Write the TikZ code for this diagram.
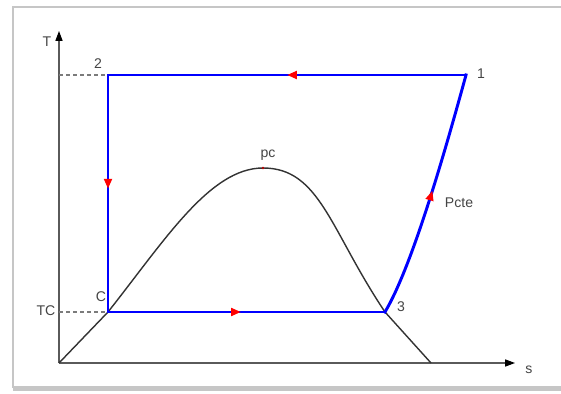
\documentclass[tikz,border=0pt]{standalone}
\usepackage{fontspec}
\setmainfont{Liberation Sans}
\usepackage{xcolor}
\usetikzlibrary{arrows.meta,decorations.markings,shadows}

\definecolor{txtgray}{HTML}{454545}
\definecolor{axisgray}{HTML}{5A5A5A}

\begin{document}
\begin{tikzpicture}[x=0.025cm, y=-0.025cm,
                    font=\fontsize{10}{12}\selectfont,
                    lab/.style={text=txtgray, inner sep=0pt},
                    axis/.style={axisgray, line width=0.8pt, -{Triangle[length=7pt,width=5pt,black]}},
                    guide/.style={axisgray!80, line width=0.9pt, dash pattern=on 3pt off 2pt},
                    dome/.style={black!80, line width=1pt},
                    path/.style={blue, line width=2.1pt, line cap=rect},
                    flow/.style={postaction={decorate, decoration={markings,
                      mark=at position #1 with {\arrow{Triangle[red,length=7pt,width=5.5pt]}}}}}]
  \useasboundingbox (0,0) rectangle (561,394);
  \draw[gray!45, line width=1pt, fill=white,
        drop shadow={shadow xshift=0pt, shadow yshift=-2.5pt, opacity=0.45}]
    (13,7) rectangle (600,387);

  \coordinate (o) at (59,363);
  \coordinate (ttip) at (59,31);
  \coordinate (stip) at (515,363);
  \coordinate (p1) at (466,75);
  \coordinate (p2) at (108,75);
  \coordinate (pC) at (108,312);
  \coordinate (p3) at (385,312);
  \coordinate (pc) at (263,168);
  \coordinate (send) at (431,363);
  \coordinate (t2) at (59,75);
  \coordinate (tC) at (59,312);

  \draw[axis] (o) -- (ttip);
  \draw[axis] (o) -- (stip);
  \draw[guide] (t2) -- (p2);
  \draw[guide] (tC) -- (pC);

  \draw[dome] (o) -- (pC)
    .. controls (165,240) and (210,168) .. (pc)
    .. controls (320,168) and (330,230) .. (p3) -- (send);

  \draw[path, flow=0.5] (p1) -- (p2);
  \draw[path, flow=0.48] (p2) -- (pC);
  \draw[path, flow=0.48] (pC) -- (p3);
  \draw[path, flow=0.52] (p3) .. controls (410,270) and (440,170) .. (p1);
  \fill[red!70!black] (pc) circle (1.3);

  \node[lab] (labT) at (47,42) {T};
  \node[lab] (labS) at (529,370) {s};
  \node[lab] (lab2) at (98,64) {2};
  \node[lab] (lab1) at (481,74) {1};
  \node[lab] (labC) at (101,297) {C};
  \node[lab] (labTC) at (46,311) {TC};
  \node[lab] (lab3) at (401,307) {3};
  \node[lab] (labpc) at (268,155) {pc};
  \node[lab] (labP) at (459,203) {Pcte};
\end{tikzpicture}
\end{document}
